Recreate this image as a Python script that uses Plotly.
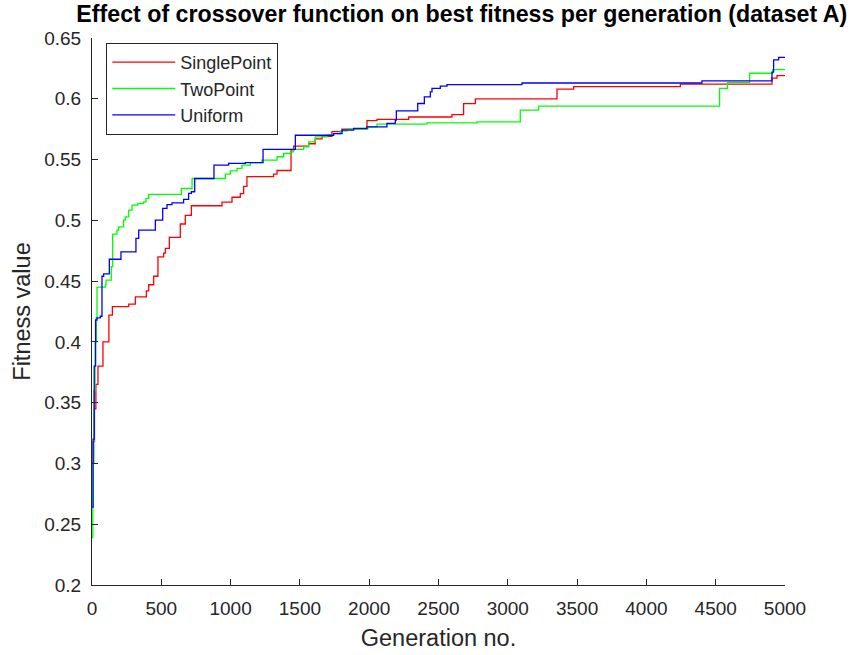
import plotly.graph_objects as go

# ---- data ----
single_gen = [0, 8, 18, 28, 43, 79, 122, 147, 265, 313, 392, 409, 445, 476, 517, 529, 558, 637, 673, 717,
              938, 1010, 1070, 1094, 1118, 1310, 1335, 1436, 1455, 1563, 1611, 1660, 1731, 1804, 1984, 2056,
              2285, 2597, 2681, 2766, 3355, 3475, 4245, 4906, 4942, 5000]
single_fit = [0.300, 0.318, 0.345, 0.365, 0.380, 0.400, 0.422, 0.429, 0.431, 0.437, 0.442, 0.447, 0.454, 0.470,
              0.473, 0.477, 0.486, 0.497, 0.504, 0.512, 0.515, 0.519, 0.522, 0.528, 0.536, 0.538, 0.541, 0.558,
              0.561, 0.563, 0.567, 0.569, 0.573, 0.575, 0.582, 0.583, 0.585, 0.587, 0.596, 0.600, 0.608, 0.610,
              0.612, 0.617, 0.619, 0.619]

two_gen = [0, 6, 14, 22, 31, 36, 96, 101, 139, 149, 180, 192, 228, 240, 265, 289, 330, 373, 390, 409, 645, 722,
           962, 998, 1046, 1082, 1142, 1226, 1335, 1383, 1431, 1455, 1527, 1563, 1611, 1695, 1743, 1792, 1840,
           1990, 2056, 2417, 2778, 3090, 3222, 4528, 4585, 4745, 4910, 5000]
two_fit = [0.239, 0.300, 0.360, 0.400, 0.420, 0.445, 0.4467, 0.4508, 0.4618, 0.4887, 0.4919, 0.4947, 0.5002,
           0.5029, 0.5084, 0.5125, 0.5139, 0.5152, 0.518, 0.5213, 0.5262, 0.5344, 0.538, 0.5407, 0.5427, 0.5454,
           0.5475, 0.5495, 0.5523, 0.555, 0.5564, 0.5583, 0.5605, 0.5646, 0.5687, 0.570, 0.5714, 0.5736, 0.575,
           0.577, 0.5791, 0.5802, 0.581, 0.5906, 0.5939, 0.6085, 0.6135, 0.621, 0.624, 0.624]

uni_gen = [0, 8, 16, 26, 36, 60, 72, 84, 125, 209, 317, 337, 457, 510, 541, 577, 661, 697, 717, 741, 880, 986,
           1106, 1234, 1467, 1743, 1804, 1888, 1984, 2128, 2188, 2196, 2350, 2398, 2441, 2453, 2513, 2561, 3102,
           4401, 4906, 4918, 4954, 5000]
uni_fit = [0.264, 0.320, 0.380, 0.418, 0.4197, 0.4211, 0.454, 0.456, 0.468, 0.4741, 0.4851, 0.4919, 0.5002,
           0.5098, 0.513, 0.5144, 0.5172, 0.5221, 0.5235, 0.5344, 0.5454, 0.5468, 0.5475, 0.5583, 0.570, 0.5714,
           0.5742, 0.5756, 0.5769, 0.5797, 0.5824, 0.590, 0.5961, 0.6016, 0.6057, 0.6085, 0.6104, 0.6117, 0.613,
           0.6147, 0.622, 0.632, 0.634, 0.634]

series_names = ["SinglePoint", "TwoPoint", "Uniform"]
series_colors = ["#FF0000", "#00FF00", "#0000FF"]

x_ticks = [0, 500, 1000, 1500, 2000, 2500, 3000, 3500, 4000, 4500, 5000]
y_ticks = [0.2, 0.25, 0.3, 0.35, 0.4, 0.45, 0.5, 0.55, 0.6, 0.65]
y_tick_text = ["0.2", "0.25", "0.3", "0.35", "0.4", "0.45", "0.5", "0.55", "0.6", "0.65"]

FONT = "Liberation Sans, Arial, Helvetica, sans-serif"
AX = "#262626"

fig = go.Figure()
for name, color, gx, gy in zip(series_names, series_colors,
                               [single_gen, two_gen, uni_gen],
                               [single_fit, two_fit, uni_fit]):
    fig.add_trace(go.Scatter(x=gx, y=gy, mode="lines", name=name, legendgroup=name,
                             line=dict(color=color, width=1.3, shape="hv")))

fig.update_layout(
    width=860, height=655,
    margin=dict(l=92, r=75, t=38, b=70),
    paper_bgcolor="white", plot_bgcolor="white",
    font=dict(family=FONT, color=AX),
    title=dict(text="<b>Effect of crossover function on best fitness per generation (dataset A)</b>",
               font=dict(family=FONT, size=23.2, color="black"),
               xref="container", x=0.537, xanchor="center",
               yref="container", y=1 - 14 / 655, yanchor="middle"),
    showlegend=True,
    legend=dict(x=0.0206, y=0.991, xanchor="left", yanchor="top",
                bgcolor="white", bordercolor=AX, borderwidth=1,
                font=dict(family=FONT, size=18, color=AX),
                itemwidth=63, tracegroupgap=0),
    xaxis=dict(range=[0, 5000], tickvals=x_ticks, ticks="inside", ticklen=6, tickcolor=AX,
               showline=True, linecolor=AX, linewidth=1, showgrid=False, zeroline=False,
               tickfont=dict(size=19, color=AX), ticklabelstandoff=6, automargin=False,
               title=dict(text="Generation no.", font=dict(size=23.5, color=AX), standoff=11)),
    yaxis=dict(range=[0.2, 0.65], tickvals=y_ticks, ticktext=y_tick_text, ticks="inside", ticklen=6,
               tickcolor=AX, showline=True, linecolor=AX, linewidth=1, showgrid=False, zeroline=False,
               tickfont=dict(size=19, color=AX), ticklabelstandoff=6, automargin=False,
               title=dict(text="Fitness value", font=dict(size=23.5, color=AX), standoff=6)),
)

fig.write_html("out.html")
